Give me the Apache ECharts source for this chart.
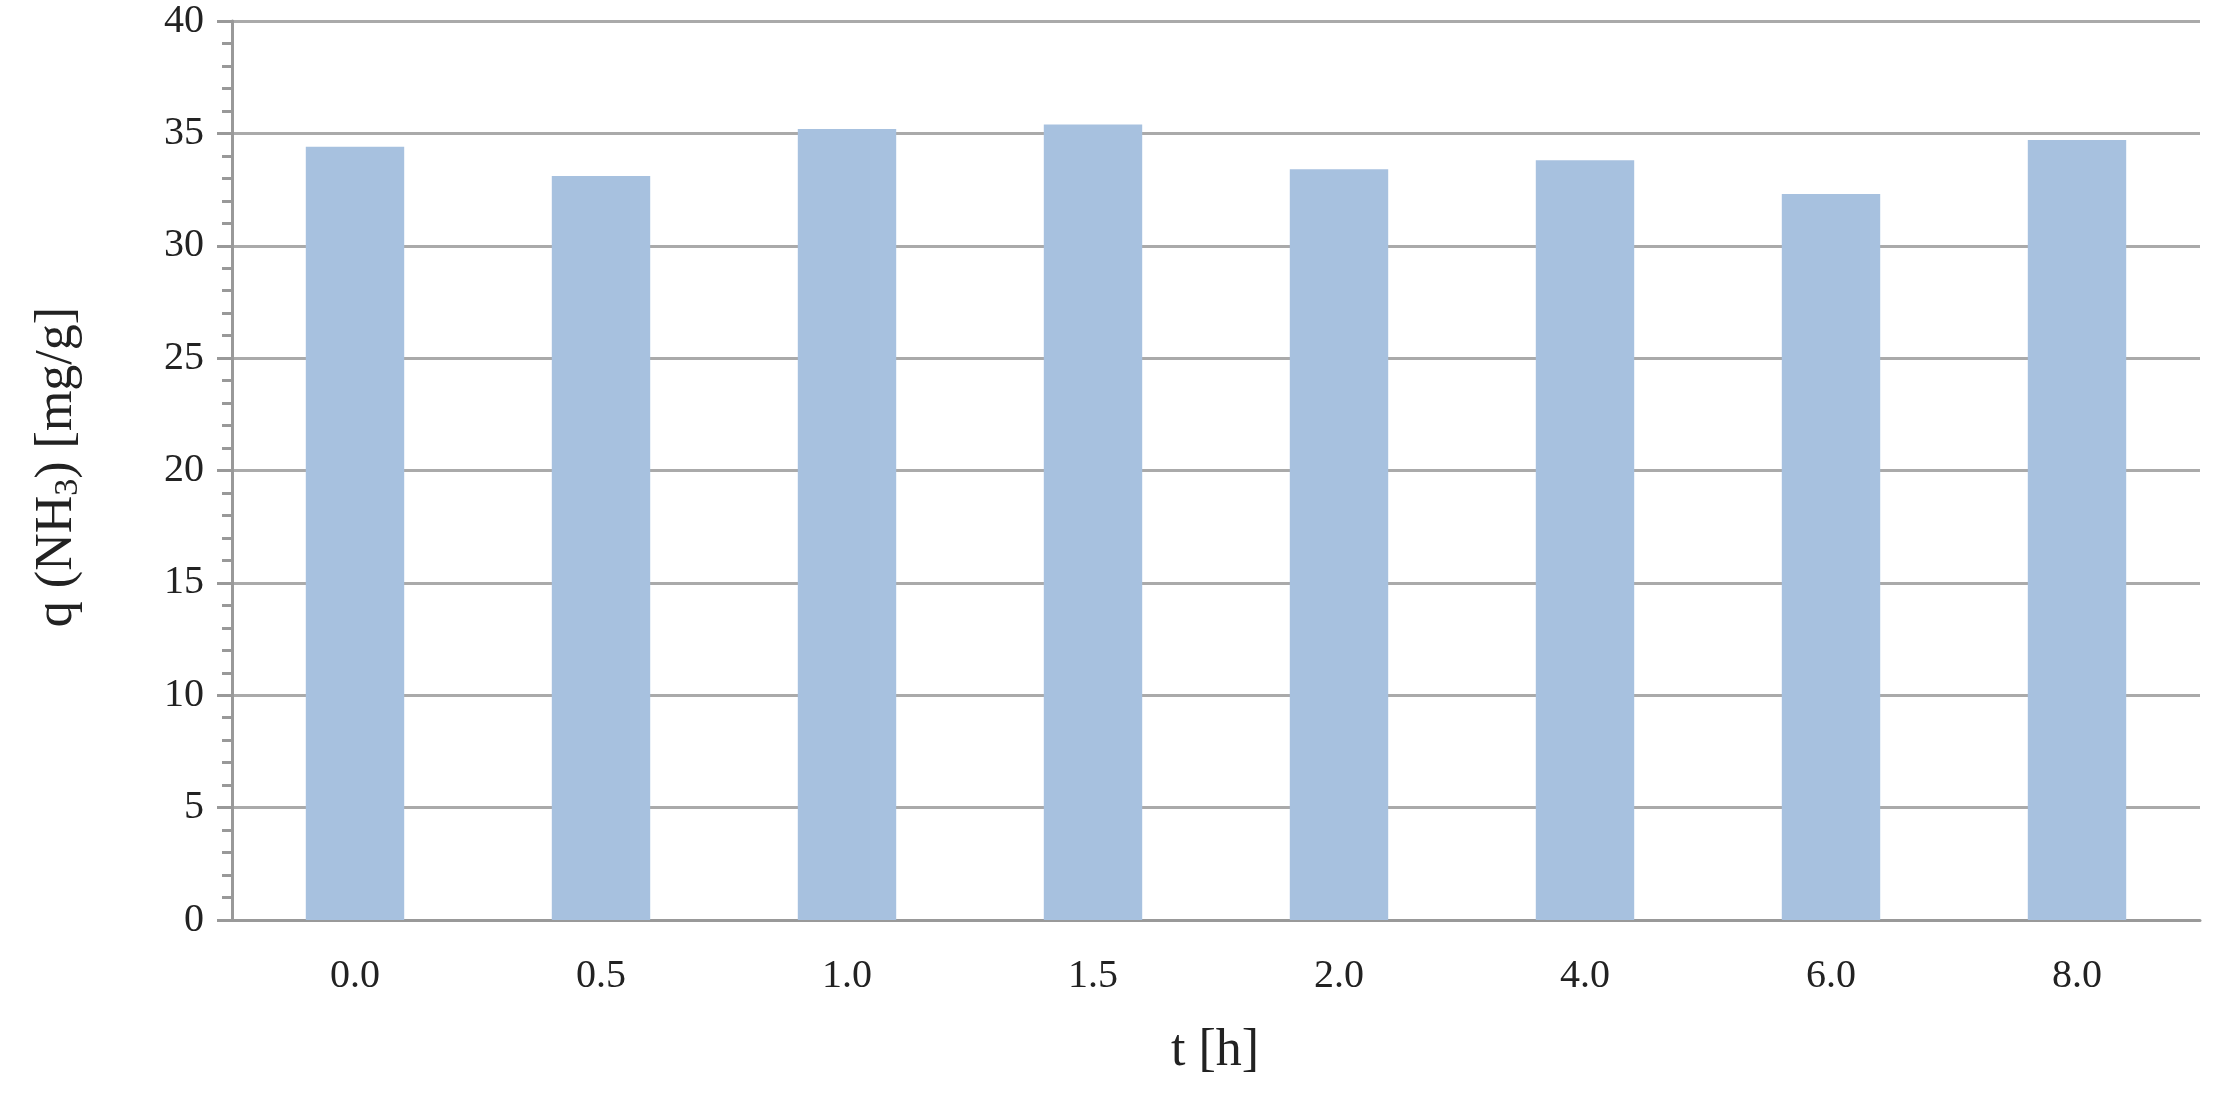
<!DOCTYPE html>
<html><head><meta charset="utf-8">
<script src="https://cdn.jsdelivr.net/npm/echarts@6/dist/echarts.min.js"></script>
<style>html,body{margin:0;padding:0;background:#fff}#c{width:2220px;height:1102px}</style>
</head><body><div id="c"></div>
<script>
const categories = ['0.0','0.5','1.0','1.5','2.0','4.0','6.0','8.0'];
const values = [34.4, 33.1, 35.2, 35.4, 33.4, 33.8, 32.3, 34.7];
const F = 'Liberation Serif, DejaVu Serif, serif';
const chart = echarts.init(document.getElementById('c'));
const yBase = {type:'value', min:0, max:40, interval:5, gridIndex:0};
chart.setOption({
  animation:false,
  grid:{left:232, right:20, top:21, bottom:182},
  xAxis:{type:'category', data:categories,
    axisLine:{lineStyle:{color:'#999', width:3}},
    axisTick:{alignWithLabel:false, length:14, lineStyle:{color:'#999', width:3}},
    axisLabel:{color:'#222', fontFamily:F, fontSize:40, margin:36}},
  yAxis:[
    Object.assign({}, yBase, {
      axisLine:{show:true, lineStyle:{color:'#999', width:3}},
      axisTick:{show:true, length:15, lineStyle:{color:'#999', width:3}},
      splitLine:{lineStyle:{color:'#aaa', width:3}},
      axisLabel:{color:'#222', fontFamily:F, fontSize:40, margin:28}}),
    Object.assign({}, yBase, {position:'left',
      axisLine:{show:false}, axisLabel:{show:false}, splitLine:{show:false},
      axisTick:{show:false},
      minorTick:{show:true, splitNumber:5, length:10, lineStyle:{color:'#999', width:3}}})
  ],
  series:[{type:'bar', data:values, barWidth:'40%', itemStyle:{color:'#a7c1df'}}],
  graphic:[
    {type:'text', left:'center', x:1215, top:1025, style:{text:'t [h]', font:'52px '+F, fill:'#222', textAlign:'center'}, left:null},
    {type:'text', x:57, y:467, rotation:Math.PI/2,
      style:{text:'{a|q (NH}{s|3}{a|) [mg/g]}', textAlign:'center', textVerticalAlign:'middle',
        rich:{a:{font:'52px '+F, fill:'#222'}, s:{font:'34px '+F, fill:'#222', padding:[22,0,0,0]}}}}
  ]
});
</script></body></html>
